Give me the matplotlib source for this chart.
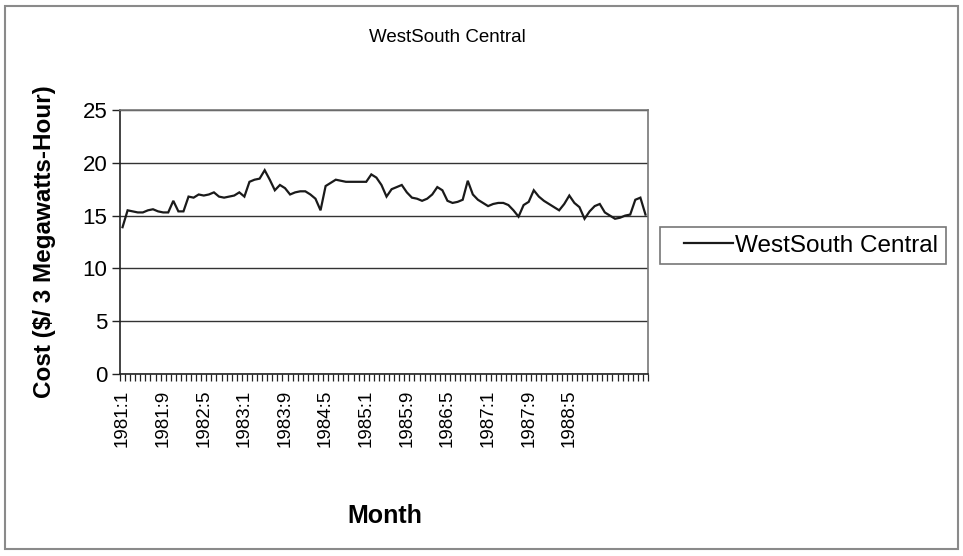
import matplotlib
matplotlib.use("Agg")
import matplotlib.pyplot as plt
from matplotlib.patches import Rectangle
from matplotlib.ticker import FixedLocator, NullFormatter
from matplotlib.legend_handler import HandlerLine2D

plt.rcParams["font.family"] = ["Liberation Sans", "DejaVu Sans"]

# Monthly cost series, West South Central region, starting 1981:1
series_name = "WestSouth Central"
cost = [
    13.9, 15.5, 15.4, 15.3, 15.3, 15.5, 15.6, 15.4, 15.3, 15.3,
    16.4, 15.4, 15.4, 16.8, 16.7, 17.0, 16.9, 17.0, 17.2, 16.8,
    16.7, 16.8, 16.9, 17.2, 16.8, 18.2, 18.4, 18.5, 19.3, 18.4,
    17.4, 17.9, 17.6, 17.0, 17.2, 17.3, 17.3, 17.0, 16.6, 15.5,
    17.8, 18.1, 18.4, 18.3, 18.2, 18.2, 18.2, 18.2, 18.2, 18.9,
    18.6, 17.9, 16.8, 17.5, 17.7, 17.9, 17.2, 16.7, 16.6, 16.4,
    16.6, 17.0, 17.7, 17.4, 16.4, 16.2, 16.3, 16.5, 18.3, 17.0,
    16.5, 16.2, 15.9, 16.1, 16.2, 16.2, 16.0, 15.5, 14.9, 16.0,
    16.3, 17.4, 16.8, 16.4, 16.1, 15.8, 15.5, 16.1, 16.9, 16.2,
    15.8, 14.7, 15.4, 15.9, 16.1, 15.3, 15.0, 14.7, 14.8, 15.0,
    15.1, 16.5, 16.7, 15.1,
]
label_every = 8
tick_labels = ["1981:1", "1981:9", "1982:5", "1983:1", "1983:9", "1984:5",
               "1985:1", "1985:9", "1986:5", "1987:1", "1987:9", "1988:5"]
y_ticks = [0, 5, 10, 15, 20, 25]

W, H = 963, 556
fig = plt.figure(figsize=(W / 100, H / 100), dpi=100)
fig.patch.set_facecolor("white")

# outer chart border
fig.patches.append(Rectangle((5 / W, 7 / H), 953 / W, 543 / H, transform=fig.transFigure,
                             fill=False, edgecolor="#8a8a8a", linewidth=1.5))

ax = fig.add_axes([120 / W, 1 - 374 / H, 528 / W, 264 / H])
x = list(range(len(cost)))
line, = ax.plot(x, cost, color="#1a1a1a", linewidth=1.6, label=series_name,
                solid_joinstyle="miter")

ax.set_xlim(-0.5, len(cost) - 0.5)
ax.set_ylim(0, 25)
ax.set_yticks(y_ticks)
ax.yaxis.grid(True, color="#333333", linewidth=1.0)
ax.set_axisbelow(True)

# category labels at every 8th month, tick marks between every category
ax.xaxis.set_major_locator(FixedLocator([i * label_every for i in range(len(tick_labels))]))
ax.set_xticklabels(tick_labels, rotation=90, fontsize=13.5)
ax.xaxis.set_minor_locator(FixedLocator([i - 0.5 for i in range(len(cost) + 1)]))
ax.xaxis.set_minor_formatter(NullFormatter())
ax.tick_params(axis="x", which="major", length=0, pad=11)
ax.tick_params(axis="x", which="minor", length=5, width=0.9, color="#222222", direction="out")
ax.tick_params(axis="y", length=6, width=1.0, color="#222222", labelsize=16, pad=3)

for side in ["left", "bottom"]:
    ax.spines[side].set_color("#222222")
    ax.spines[side].set_linewidth(1.2)
for side in ["top", "right"]:
    ax.spines[side].set_color("#777777")
    ax.spines[side].set_linewidth(1.2)

fig.text(447 / W, 1 - 38 / H, series_name, fontsize=13.5, ha="center", va="center")
ax.set_ylabel("Cost ($/ 3 Megawatts-Hour)", fontsize=17.5, fontweight="bold")
ax.yaxis.set_label_coords((56 - 120) / 528, 0.5)
fig.text(385 / W, 1 - 516 / H, "Month", fontsize=18, fontweight="bold", ha="center", va="center")

leg = fig.legend(loc="center left", bbox_to_anchor=(660 / W, 1 - 245.5 / H), fontsize=17.5,
                 frameon=True, fancybox=False, handlelength=2.7, handletextpad=0.1,
                 borderpad=0.3, borderaxespad=0,
                 handler_map={line: HandlerLine2D(xpad=0.7)})
leg.get_frame().set_edgecolor("#555555")
leg.get_frame().set_linewidth(1.2)

fig.savefig("out.png", dpi=100, facecolor="white")
